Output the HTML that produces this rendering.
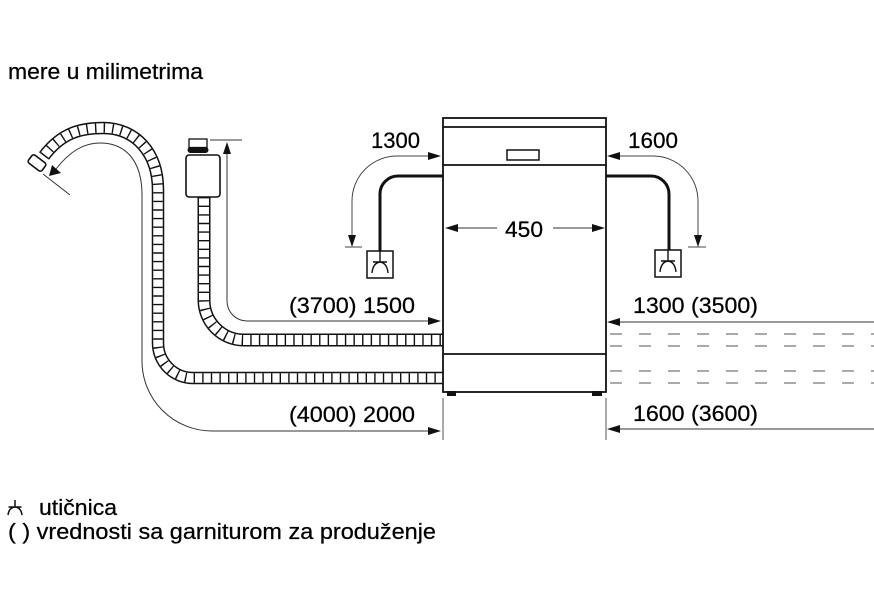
<!DOCTYPE html>
<html>
<head>
<meta charset="utf-8">
<style>
  html,body{margin:0;padding:0;background:#fff;}
  svg{display:block;}
  text{font-family:"Liberation Sans", Arial, sans-serif;fill:#000;stroke:#000;stroke-width:0.25;}
</style>
</head>
<body>
<svg width="874" height="608" viewBox="0 0 874 608" xmlns="http://www.w3.org/2000/svg">
  <rect width="874" height="608" fill="#fff"/>

  <!-- Title -->
  <text x="8" y="79" font-size="22" textLength="195" lengthAdjust="spacingAndGlyphs">mere u milimetrima</text>

  <!-- ===== Drain hose (big arc) ===== -->
  <g fill="none">
    <path d="M44 156 C62 132, 82 128, 103 128 C135 128, 158 152, 158 190 L158 343 A35 35 0 0 0 193 378 L443 378" stroke="#111" stroke-width="12.5"/>
    <path d="M44 156 C62 132, 82 128, 103 128 C135 128, 158 152, 158 190 L158 343 A35 35 0 0 0 193 378 L443 378" stroke="#fff" stroke-width="9.5"/>
    <path d="M44 156 C62 132, 82 128, 103 128 C135 128, 158 152, 158 190 L158 343 A35 35 0 0 0 193 378 L443 378" stroke="#111" stroke-width="9.5" stroke-dasharray="1.4 7.2"/>
  </g>
  <!-- hose end cap -->
  <rect x="-8.5" y="-5" width="17" height="10" rx="2.5" transform="translate(37,163) rotate(37)" fill="#fff" stroke="#111" stroke-width="1.6"/>

  <!-- ===== Inlet hose ===== -->
  <g fill="none">
    <path d="M204 197 L204 300 A40 40 0 0 0 244 340 L443 340" stroke="#111" stroke-width="13"/>
    <path d="M204 197 L204 300 A40 40 0 0 0 244 340 L443 340" stroke="#fff" stroke-width="10"/>
    <path d="M204 197 L204 300 A40 40 0 0 0 244 340 L443 340" stroke="#111" stroke-width="10" stroke-dasharray="1.4 7.2"/>
  </g>
  <!-- aquastop box -->
  <rect x="189" y="139" width="18" height="8.5" fill="#fff" stroke="#111" stroke-width="1.3"/>
  <rect x="187.5" y="147" width="21" height="6" rx="3" fill="#111"/>
  <rect x="186" y="155" width="34" height="42" rx="3" fill="#fff" stroke="#111" stroke-width="1.6"/>

  <!-- ===== Dimension lines left ===== -->
  <g fill="none" stroke="#333" stroke-width="1">
    <path d="M227 153 L227 301 A20 20 0 0 0 247 321 L429 321"/>
    <path d="M210 140 L242 140"/>
    <path d="M56 169 C70 151, 84 143, 100 143 C125 143, 142 160, 142 195 L142 361 A70 70 0 0 0 212 431 L429 431"/>
    <path d="M43 174 L70 195"/>
  </g>
  <path d="M227 142 L223 154 L231 154 Z" fill="#111"/>
  <path d="M441 321 L428 317 L428 325 Z" fill="#111"/>
  <path d="M441 431 L428 427 L428 435 Z" fill="#111"/>
  <path d="M49 176 L52 165 L61 173 Z" fill="#111"/>

  <text x="289" y="313" font-size="22.5" textLength="126" lengthAdjust="spacingAndGlyphs">(3700) 1500</text>
  <text x="289" y="422" font-size="22.5" textLength="126" lengthAdjust="spacingAndGlyphs">(4000) 2000</text>

  <!-- ===== Dishwasher ===== -->
  <g fill="none" stroke="#111" stroke-width="1.8">
    <rect x="443" y="118" width="163" height="274" fill="#fff"/>
    <path d="M443 127 L606 127"/>
    <path d="M443 165 L606 165"/>
    <path d="M443 354 L606 354"/>
    <rect x="507" y="150" width="32" height="10" stroke-width="1.5"/>
  </g>
  <rect x="447" y="391" width="9" height="5" fill="#111"/>
  <rect x="592" y="391" width="10" height="5" fill="#111"/>
  <path d="M443 398 L443 440 M606 398 L606 440" stroke="#555" stroke-width="1" fill="none"/>

  <!-- 450 -->
  <path d="M457 228 L497 228 M553 228 L593 228" stroke="#333" stroke-width="1" fill="none"/>
  <path d="M445 228 L458 224 L458 232 Z" fill="#111"/>
  <path d="M605 228 L592 224 L592 232 Z" fill="#111"/>
  <text x="505" y="237" font-size="22.5" textLength="38" lengthAdjust="spacingAndGlyphs">450</text>

  <!-- ===== power cords ===== -->
  <g fill="none" stroke="#111" stroke-width="3">
    <path d="M443 176 L398 176 A18 18 0 0 0 380 194 L380 252"/>
    <path d="M606 176 L651 176 A18 18 0 0 1 669 194 L669 251"/>
  </g>
  <g fill="#fff" stroke="#111" stroke-width="1.5">
    <rect x="367" y="251" width="26" height="27"/>
    <rect x="655" y="250" width="26" height="27"/>
  </g>
  <g fill="none" stroke="#111" stroke-width="1.4">
    <path d="M380 251 L380 262 M373 262 L387 262 M372 273 Q373 263 380 262 Q387 263 388 273"/>
    <path d="M668 250 L668 261 M661 261 L675 261 M660 272 Q661 262 668 261 Q675 262 676 272"/>
  </g>

  <!-- gray cord dimension arrows -->
  <g fill="none" stroke="#444" stroke-width="1">
    <path d="M429 156 L397 156 A45 45 0 0 0 352 201 L352 236"/>
    <path d="M345 247 L362 247"/>
    <path d="M619 156 L653 156 A45 45 0 0 1 698 201 L698 236"/>
    <path d="M688 247 L706 247"/>
  </g>
  <path d="M441 156 L428 152 L428 160 Z" fill="#111"/>
  <path d="M607 156 L620 152 L620 160 Z" fill="#111"/>
  <path d="M352 247 L348 235 L356 235 Z" fill="#111"/>
  <path d="M698 247 L694 235 L702 235 Z" fill="#111"/>

  <text x="371" y="148" font-size="22.5" textLength="49" lengthAdjust="spacingAndGlyphs">1300</text>
  <text x="628" y="148" font-size="22.5" textLength="50" lengthAdjust="spacingAndGlyphs">1600</text>

  <!-- ===== Right side ===== -->
  <g fill="none" stroke="#555" stroke-width="1" stroke-dasharray="12 17">
    <path d="M610 334 L874 334"/>
    <path d="M610 346 L874 346"/>
    <path d="M610 371 L874 371"/>
    <path d="M610 383 L874 383"/>
  </g>
  <path d="M619 322 L874 322 M619 429 L874 429" stroke="#333" stroke-width="1" fill="none"/>
  <path d="M607 322 L620 318 L620 326 Z" fill="#111"/>
  <path d="M607 429 L620 425 L620 433 Z" fill="#111"/>
  <text x="633" y="313" font-size="22.5" textLength="125" lengthAdjust="spacingAndGlyphs">1300 (3500)</text>
  <text x="633" y="421" font-size="22.5" textLength="125" lengthAdjust="spacingAndGlyphs">1600 (3600)</text>

  <!-- ===== Legend ===== -->
  <g fill="none" stroke="#111" stroke-width="1.5">
    <path d="M15 500 L15 507 M8.5 507 L21.5 507 M8 515 Q9 507.5 15 507 Q21 507.5 22 515"/>
  </g>
  <text x="39" y="515" font-size="22" textLength="78" lengthAdjust="spacingAndGlyphs">utičnica</text>
  <text x="8" y="539" font-size="22" textLength="428" lengthAdjust="spacingAndGlyphs">( ) vrednosti sa garniturom za produženje</text>
</svg>
</body>
</html>
